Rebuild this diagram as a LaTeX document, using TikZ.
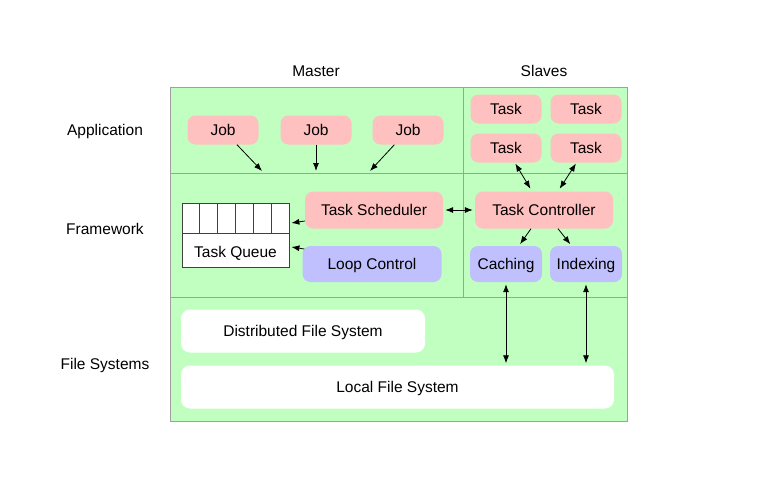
\documentclass[tikz,border=0pt]{standalone}
\usepackage{fontspec}
\setmainfont{Liberation Sans}
\usetikzlibrary{arrows.meta,calc}
\definecolor{layergreen}{HTML}{C0FFC0}
\definecolor{layerline}{HTML}{A0A0A0}
\definecolor{boxpink}{HTML}{FFC0C0}
\definecolor{boxblue}{HTML}{C0C0FF}
\tikzset{
	pinkbox/.style={fill=boxpink,rounded corners=8pt,inner sep=0pt,minimum width=71pt,minimum height=29pt},
	bluebox/.style={fill=boxblue,rounded corners=8pt,inner sep=0pt,minimum width=72pt,minimum height=36pt},
	fsbox/.style={fill=white,rounded corners=9pt,inner sep=0pt,minimum height=43pt},
	arr/.style={-{Latex[length=8pt,width=6pt]},line width=0.8pt},
	darr/.style={{Latex[length=8pt,width=6pt]}-{Latex[length=8pt,width=6pt]},line width=0.8pt},
}
\begin{document}
\begin{tikzpicture}[x=1pt,y=-1pt,font=\fontsize{15.5}{18}\selectfont,text depth=0pt]
		\useasboundingbox (0,0) rectangle (760,485);
		% layers
		\filldraw [layergreen,draw=layerline,line width=0.8pt] (170,87) rectangle (627,421);
		\draw [layerline,line width=0.8pt] (170,173) -- (627,173);
		\draw [layerline,line width=0.8pt] (170,297) -- (627,297);
		\draw [layerline,line width=0.8pt] (463,87) -- (463,297);
		\node (master) at (316,71) {Master};
		\node (slaves) at (544,71) {Slaves};
		\node (app) at (105,130) {Application};
		\node (fw) at (105,229) {Framework};
		\node (fs) at (105,364) {File Systems};
		% application
		\node [pinkbox] (job1) at (223,130) {Job};
		\node [pinkbox] (job2) at (316,130) {Job};
		\node [pinkbox] (job3) at (408,130) {Job};
		\node [pinkbox] (task1) at (506,109) {Task};
		\node [pinkbox] (task2) at (586,109) {Task};
		\node [pinkbox] (task3) at (506,148) {Task};
		\node [pinkbox] (task4) at (586,148) {Task};
		\coordinate (in1) at (262,171);
		\coordinate (in2) at (316,171);
		\coordinate (in3) at (370,171);
		% framework
		\node [pinkbox,minimum width=138pt,minimum height=37pt] (sched) at (374,210) {Task Scheduler};
		\node [pinkbox,minimum width=138pt,minimum height=37pt] (ctrl) at (544,210) {Task Controller};
		\node [bluebox,minimum width=139pt] (loop) at (372,264) {Loop Control};
		\node [bluebox] (cache) at (506,264) {Caching};
		\node [bluebox] (index) at (586,264) {Indexing};
		\node [draw=black!75,fill=white,line width=0.8pt,minimum width=107pt,minimum height=64pt,inner sep=0pt] (queue) at (235.5,235) {};
		\node (qlabel) at (235.5,252) {Task Queue};
		\draw [black!75,line width=0.8pt] (182,233) -- (289,233);
		\foreach \i in {1,...,5}
			\draw [black!75,line width=0.8pt] (182+\i*17.83,203) -- (182+\i*17.83,233);
		% file systems
		\node [fsbox,minimum width=244pt] (dfs) at (303,331) {Distributed File System};
		\node [fsbox,minimum width=433pt] (lfs) at (397.5,387) {Local File System};
		% connectors
		\draw[arr] (job1)--(in1);
		\draw[arr] (job2)--(in2);
		\draw[arr] (job3)--(in3);
		\draw[arr] ($(sched.west)+(0,11)$)--($(queue.east)+(2,-12)$);
		\draw[arr] ($(loop.west)+(2,-15)$)--($(queue.east)+(2,12)$);
		\draw[darr,shorten <=2pt,shorten >=2pt] (sched)--(ctrl);
		\draw[darr,shorten <=1pt,shorten >=3pt] (task3)--($(ctrl.north)+(-12,0)$);
		\draw[darr,shorten <=1pt,shorten >=3pt] (task4)--($(ctrl.north)+(14,0)$);
		\draw[arr,shorten >=2pt] ($(ctrl.south)+(-13,0)$)--(cache);
		\draw[arr,shorten >=2pt] ($(ctrl.south)+(14,0)$)--(index);
		\draw[darr,shorten <=2pt,shorten >=2pt] (cache.south)--(cache.south |- lfs.north);
		\draw[darr,shorten <=2pt,shorten >=2pt] (index.south)--(index.south |- lfs.north);
	\end{tikzpicture}
\end{document}
